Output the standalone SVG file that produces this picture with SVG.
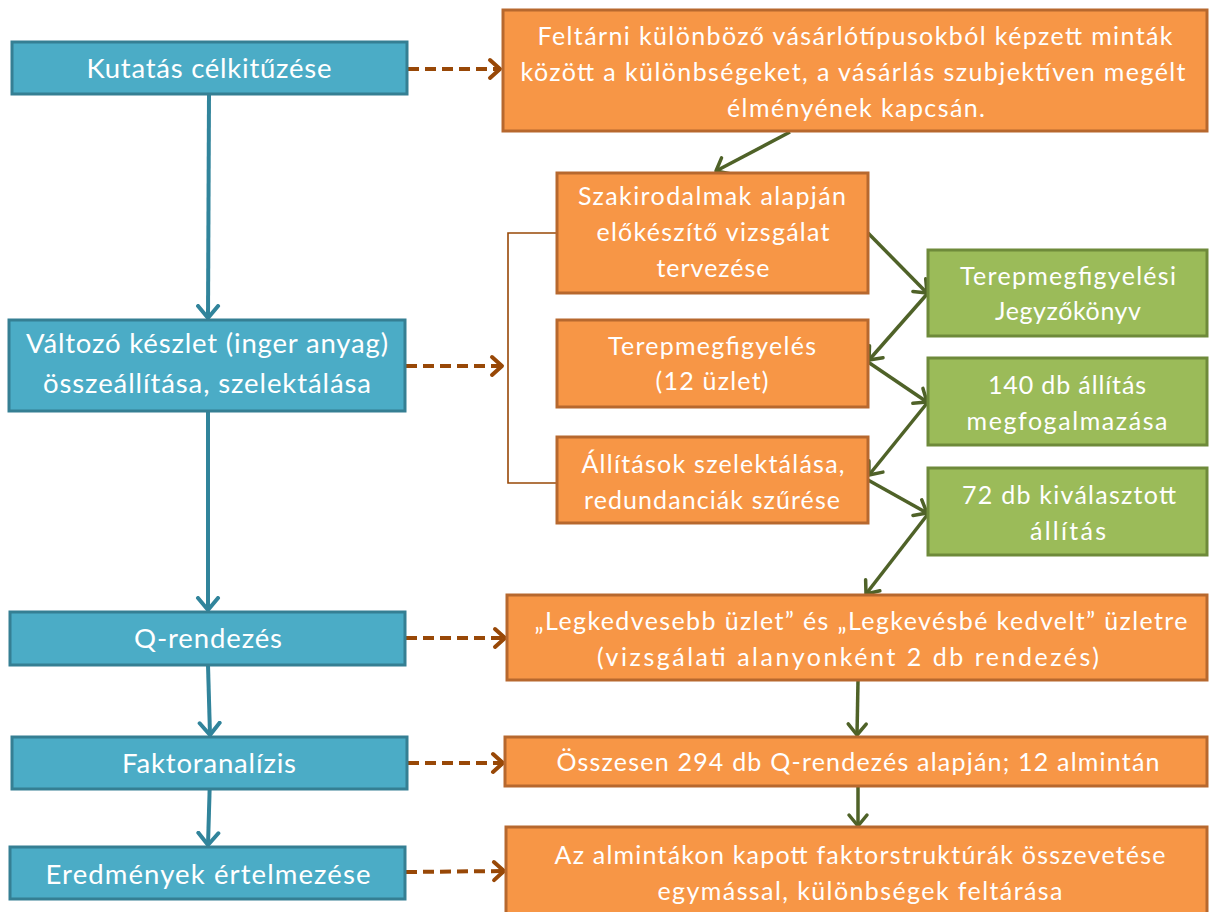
<svg xmlns="http://www.w3.org/2000/svg" width="1210" height="912" viewBox="0 0 1210 912">
<style>
.blue{fill:#4BACC6;stroke:#357F93;stroke-width:3}
.orange{fill:#F79646;stroke:#B7682E;stroke-width:3}
.green{fill:#9BBB59;stroke:#6E8A3A;stroke-width:3}
text{font-family:Lato,"Open Sans","Liberation Sans",sans-serif;fill:#FFFFFF;text-anchor:middle}
.bt{font-size:27.5px}
.ot{font-size:25px}
.cb{stroke:#31849B;stroke-width:4;fill:none}
.cd{stroke:#984807;stroke-width:4;fill:none;stroke-dasharray:11 6}
.cg{stroke:#4F6228;stroke-width:3.5;fill:none}
.br{stroke:#984807;stroke-width:1.6;fill:none}
</style>
<defs>
<marker id="ab" markerUnits="userSpaceOnUse" markerWidth="30" markerHeight="30" refX="14" refY="12" orient="auto" viewBox="0 0 30 24">
<path d="M2,2 L14,12 L2,22" fill="none" stroke="#31849B" stroke-width="4" stroke-linecap="round" stroke-linejoin="round"/>
</marker>
<marker id="ad" markerUnits="userSpaceOnUse" markerWidth="30" markerHeight="30" refX="14" refY="12" orient="auto" viewBox="0 0 30 24">
<path d="M4,3 L14,12 L4,21" fill="none" stroke="#984807" stroke-width="4" stroke-linecap="round" stroke-linejoin="round"/>
</marker>
<marker id="ag" markerUnits="userSpaceOnUse" markerWidth="30" markerHeight="30" refX="14" refY="12" orient="auto" viewBox="0 0 30 24">
<path d="M3,3 L14,12 L3,21" fill="none" stroke="#4F6228" stroke-width="3.5" stroke-linecap="round" stroke-linejoin="round"/>
</marker>
</defs>

<g id="connectors">
<line class="cb" x1="209" y1="94" x2="208" y2="318" marker-end="url(#ab)"/>
<line class="cb" x1="208" y1="411" x2="208" y2="610" marker-end="url(#ab)"/>
<line class="cb" x1="208" y1="665" x2="210" y2="735" marker-end="url(#ab)"/>
<line class="cb" x1="210" y1="777" x2="208" y2="845" marker-end="url(#ab)"/>
<line class="cd" x1="408" y1="69" x2="500" y2="69" marker-end="url(#ad)"/>
<line class="cd" x1="406" y1="366" x2="502" y2="366" marker-end="url(#ad)"/>
<line class="cd" x1="406" y1="638" x2="505" y2="638" marker-end="url(#ad)"/>
<line class="cd" x1="408" y1="763" x2="503" y2="763" marker-end="url(#ad)"/>
<line class="cd" x1="406" y1="872" x2="504" y2="871" marker-end="url(#ad)"/>
<polyline class="br" points="557,233 508,233 508,483 557,483"/>
<line class="cg" x1="790" y1="132" x2="716" y2="171" marker-end="url(#ag)"/>
<line class="cg" x1="868" y1="233" x2="927" y2="293" marker-end="url(#ag)"/>
<line class="cg" x1="928" y1="293" x2="869" y2="360" marker-end="url(#ag)"/>
<line class="cg" x1="868" y1="362" x2="927" y2="402" marker-end="url(#ag)"/>
<line class="cg" x1="928" y1="402" x2="869" y2="475" marker-end="url(#ag)"/>
<line class="cg" x1="868" y1="480" x2="927" y2="513" marker-end="url(#ag)"/>
<line class="cg" x1="928" y1="514" x2="866" y2="594" marker-end="url(#ag)"/>
<line class="cg" x1="858" y1="681" x2="857" y2="735" marker-end="url(#ag)"/>
<line class="cg" x1="858" y1="787" x2="858" y2="826" marker-end="url(#ag)"/>
</g>

<g id="n-kutatas">
<rect class="blue" x="12" y="42" width="395" height="52"/>
<text class="bt" x="209" y="78" textLength="245">Kutatás célkitűzése</text>
</g>
<g id="n-valtozo">
<rect class="blue" x="9" y="320" width="396" height="91"/>
<text class="bt" x="207" y="353" textLength="362">Változó készlet (inger anyag)</text>
<text class="bt" x="207" y="393" textLength="328">összeállítása, szelektálása</text>
</g>
<g id="n-qrend">
<rect class="blue" x="10" y="612" width="395" height="53"/>
<text class="bt" x="208" y="648" textLength="148">Q-rendezés</text>
</g>
<g id="n-faktor">
<rect class="blue" x="12" y="737" width="395" height="52"/>
<text class="bt" x="209" y="773" textLength="174">Faktoranalízis</text>
</g>
<g id="n-eredmeny">
<rect class="blue" x="10" y="847" width="395" height="52"/>
<text class="bt" x="208" y="884" textLength="325">Eredmények értelmezése</text>
</g>

<g id="n-feltarni">
<rect class="orange" x="503" y="10" width="704" height="121"/>
<text class="ot" x="855" y="45" textLength="635">Feltárni különböző vásárlótípusokból képzett minták</text>
<text class="ot" x="853" y="81" textLength="665">között a különbségeket, a vásárlás szubjektíven megélt</text>
<text class="ot" x="856" y="117" textLength="258">élményének kapcsán.</text>
</g>
<g id="n-szakirodalom">
<rect class="orange" x="557" y="173" width="311" height="120"/>
<text class="ot" x="712" y="205" textLength="268">Szakirodalmak alapján</text>
<text class="ot" x="713" y="241" textLength="233">előkészítő vizsgálat</text>
<text class="ot" x="713" y="277" textLength="113">tervezése</text>
</g>
<g id="n-terep">
<rect class="orange" x="557" y="320" width="311" height="87"/>
<text class="ot" x="712" y="355" textLength="208">Terepmegfigyelés</text>
<text class="ot" x="712" y="390" textLength="113">(12 üzlet)</text>
</g>
<g id="n-allitasok">
<rect class="orange" x="557" y="437" width="311" height="86"/>
<text class="ot" x="713" y="473" textLength="263">Állítások szelektálása,</text>
<text class="ot" x="712" y="509" textLength="256">redundanciák szűrése</text>
</g>
<g id="n-jegyzokonyv">
<rect class="green" x="928" y="250" width="279" height="86"/>
<text class="ot" x="1068" y="285" textLength="216">Terepmegfigyelési</text>
<text class="ot" x="1068" y="320" textLength="146">Jegyzőkönyv</text>
</g>
<g id="n-140db">
<rect class="green" x="928" y="358" width="279" height="87"/>
<text class="ot" x="1067" y="394" textLength="158">140 db állítás</text>
<text class="ot" x="1067" y="430" textLength="201">megfogalmazása</text>
</g>
<g id="n-72db">
<rect class="green" x="928" y="468" width="279" height="87"/>
<text class="ot" x="1069" y="504" textLength="214">72 db kiválasztott</text>
<text class="ot" x="1068" y="540" textLength="76">állítás</text>
</g>
<g id="n-legkedvesebb">
<rect class="orange" x="507" y="595" width="700" height="85"/>
<text class="ot" x="861" y="630" textLength="653">„Legkedvesebb üzlet” és „Legkevésbé kedvelt” üzletre</text>
<text class="ot" x="848" y="666" textLength="502">(vizsgálati alanyonként 2 db rendezés)</text>
</g>
<g id="n-osszesen">
<rect class="orange" x="505" y="737" width="702" height="49"/>
<text class="ot" x="858" y="771" textLength="603">Összesen 294 db Q-rendezés alapján; 12 almintán</text>
</g>
<g id="n-almintak">
<rect class="orange" x="506" y="827" width="701" height="90"/>
<text class="ot" x="860" y="864" textLength="611">Az almintákon kapott faktorstruktúrák összevetése</text>
<text class="ot" x="860" y="900" textLength="405">egymással, különbségek feltárása</text>
</g>
</svg>
